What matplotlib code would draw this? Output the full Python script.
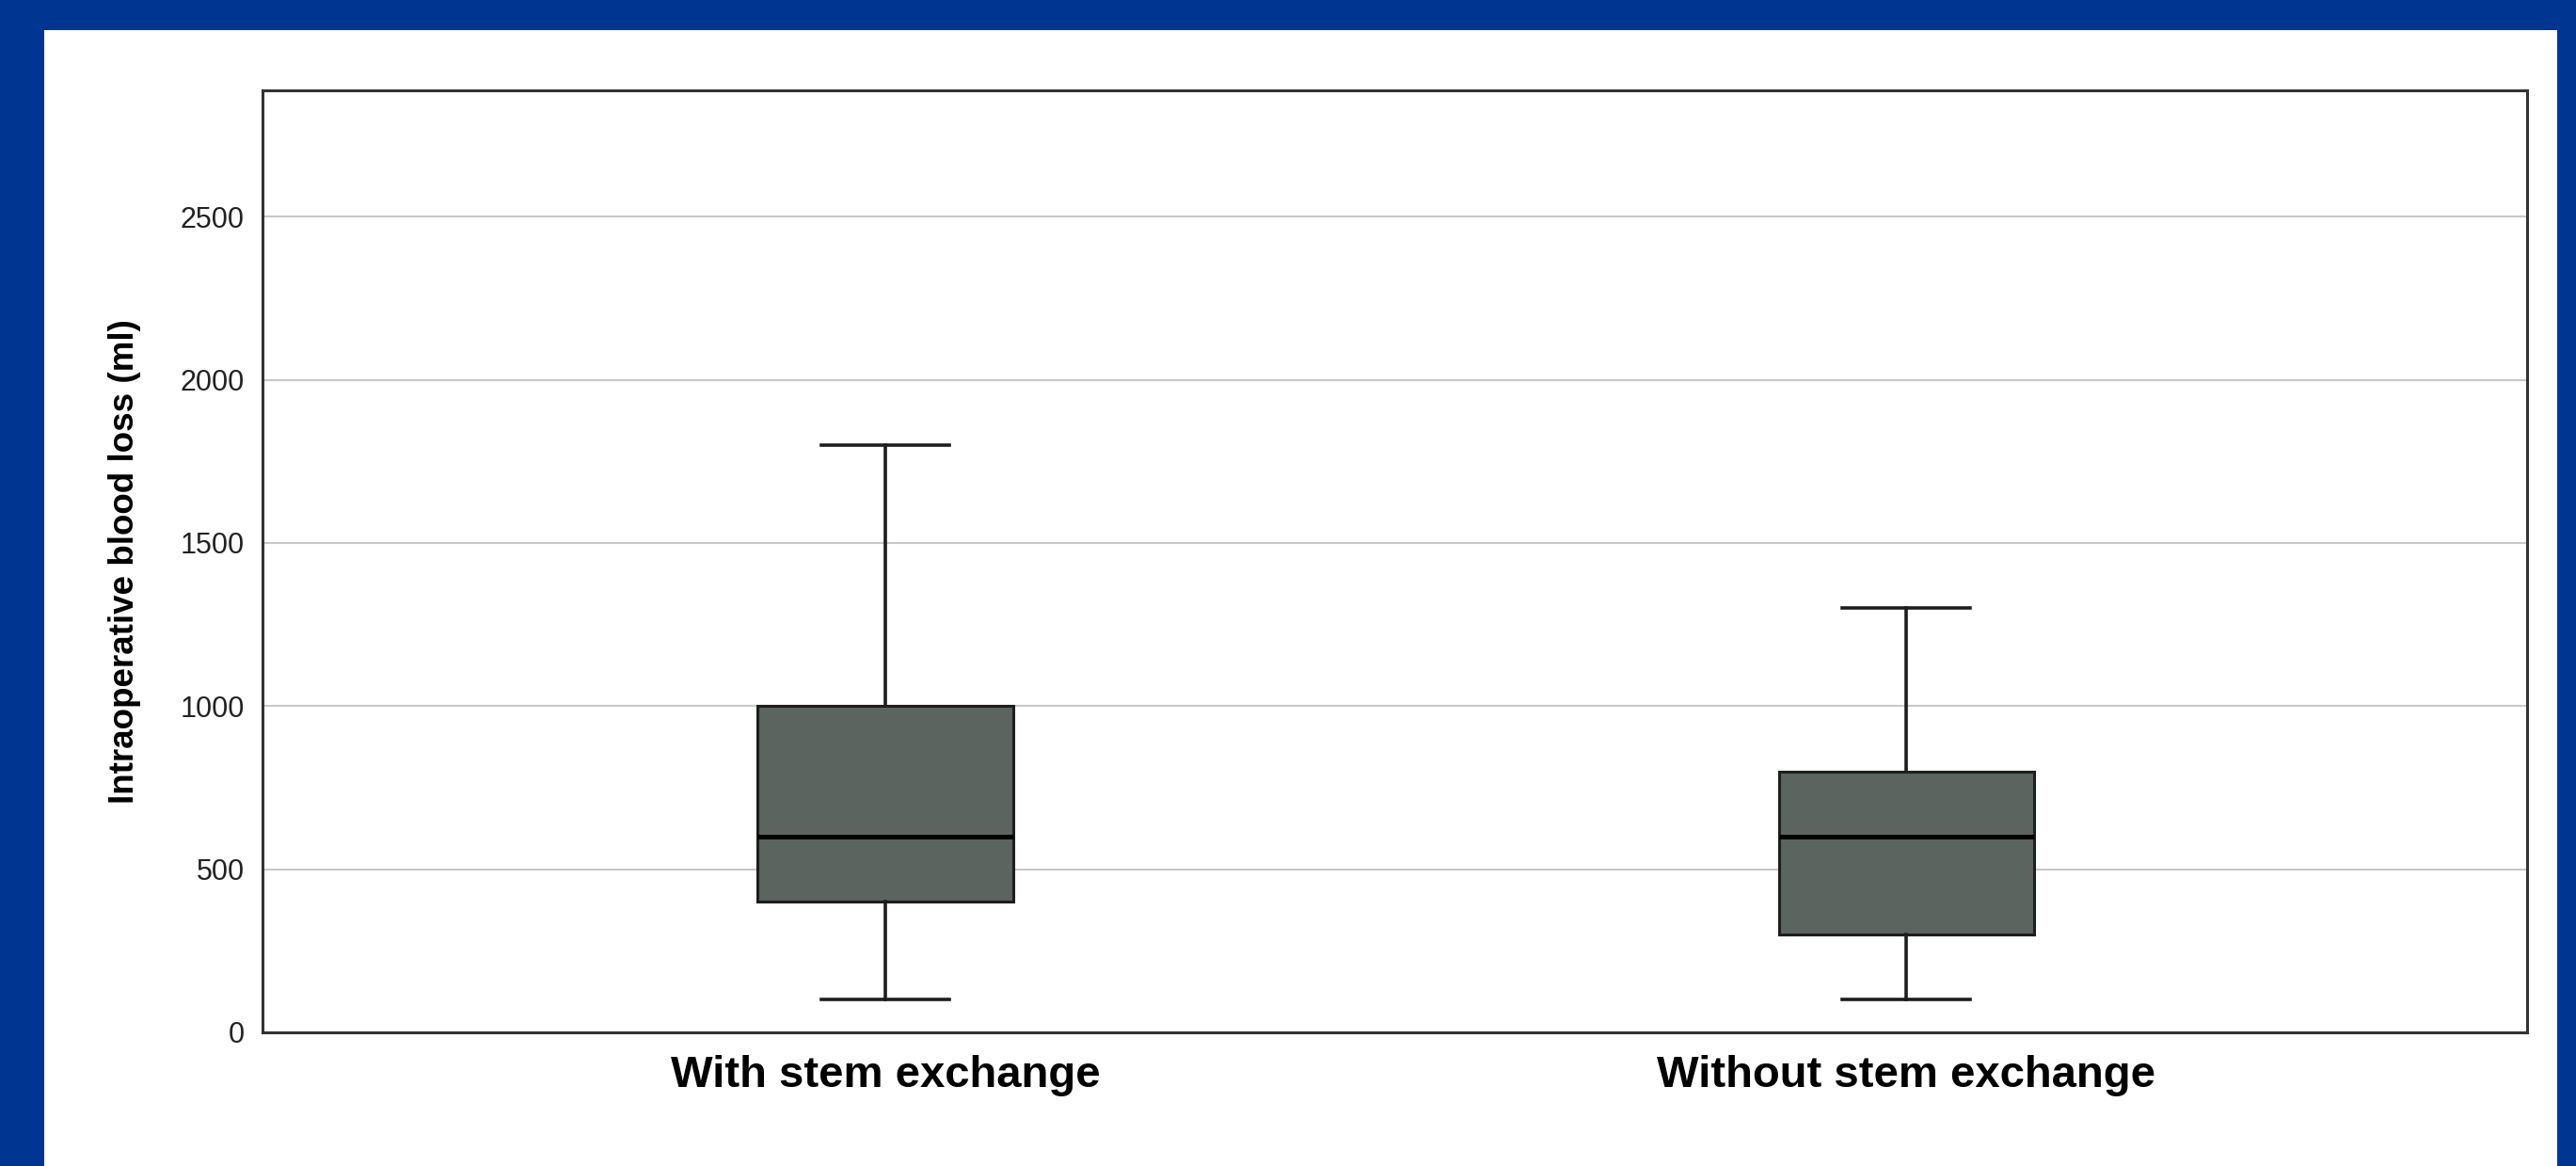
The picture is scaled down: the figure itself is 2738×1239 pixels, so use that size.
import matplotlib
matplotlib.use("Agg")
import matplotlib.pyplot as plt
from matplotlib.patches import Rectangle

# dati (ml)
gruppi = ["With stem exchange", "Without stem exchange"]
minimo = [100, 100]
q1 = [400, 300]
mediana = [600, 600]
q3 = [1000, 800]
massimo = [1800, 1300]

yticks = [0, 500, 1000, 1500, 2000, 2500]

W, H = 2738, 1239
fig = plt.figure(figsize=(W / 100, H / 100), dpi=100, facecolor="#003592")

# pannello bianco dentro la cornice blu
fig.add_artist(Rectangle((47 / W, 0), (2718 - 47) / W, (H - 32) / H,
                         transform=fig.transFigure, facecolor="white",
                         edgecolor="none", zorder=0))

ax = fig.add_axes([279 / W, 1 - 1097 / H, (2686 - 279) / W, (1097 - 96) / H])
ax.set_facecolor("white")

stats = []
for i in range(len(gruppi)):
    stats.append({"label": gruppi[i], "whislo": minimo[i], "q1": q1[i],
                  "med": mediana[i], "q3": q3[i], "whishi": massimo[i],
                  "fliers": []})

ax.bxp(stats, positions=[1, 2], widths=0.25, patch_artist=True,
       showfliers=False,
       boxprops=dict(facecolor="#5b645e", edgecolor="#1e1e1e", linewidth=2.2),
       medianprops=dict(color="black", linewidth=3.6),
       whiskerprops=dict(color="#1e1e1e", linewidth=2.6),
       capprops=dict(color="#1e1e1e", linewidth=2.6))

ax.set_xlim(0.39, 2.608)
ax.set_ylim(0, 2887)
ax.set_yticks(yticks)
ax.set_xticks([1, 2])
ax.set_xticklabels(gruppi, fontsize=34, fontweight="bold",
                   family=["Liberation Sans", "DejaVu Sans"])
ax.tick_params(axis="x", length=0, pad=17)
ax.tick_params(axis="y", length=0, pad=14, labelsize=22, labelcolor="#222222")
for t in ax.get_yticklabels():
    t.set_family(["Liberation Sans", "DejaVu Sans"])

ax.yaxis.grid(True, color="#c8c8c8", linewidth=1.5)
ax.set_axisbelow(True)

for s in ax.spines.values():
    s.set_color("#333333")
    s.set_linewidth(2.2)

ax.set_ylabel("Intraoperative blood loss (ml)", fontsize=26.5, fontweight="bold",
              family=["Liberation Sans", "DejaVu Sans"], labelpad=30)

fig.savefig("out.png", dpi=100, facecolor=fig.get_facecolor())
